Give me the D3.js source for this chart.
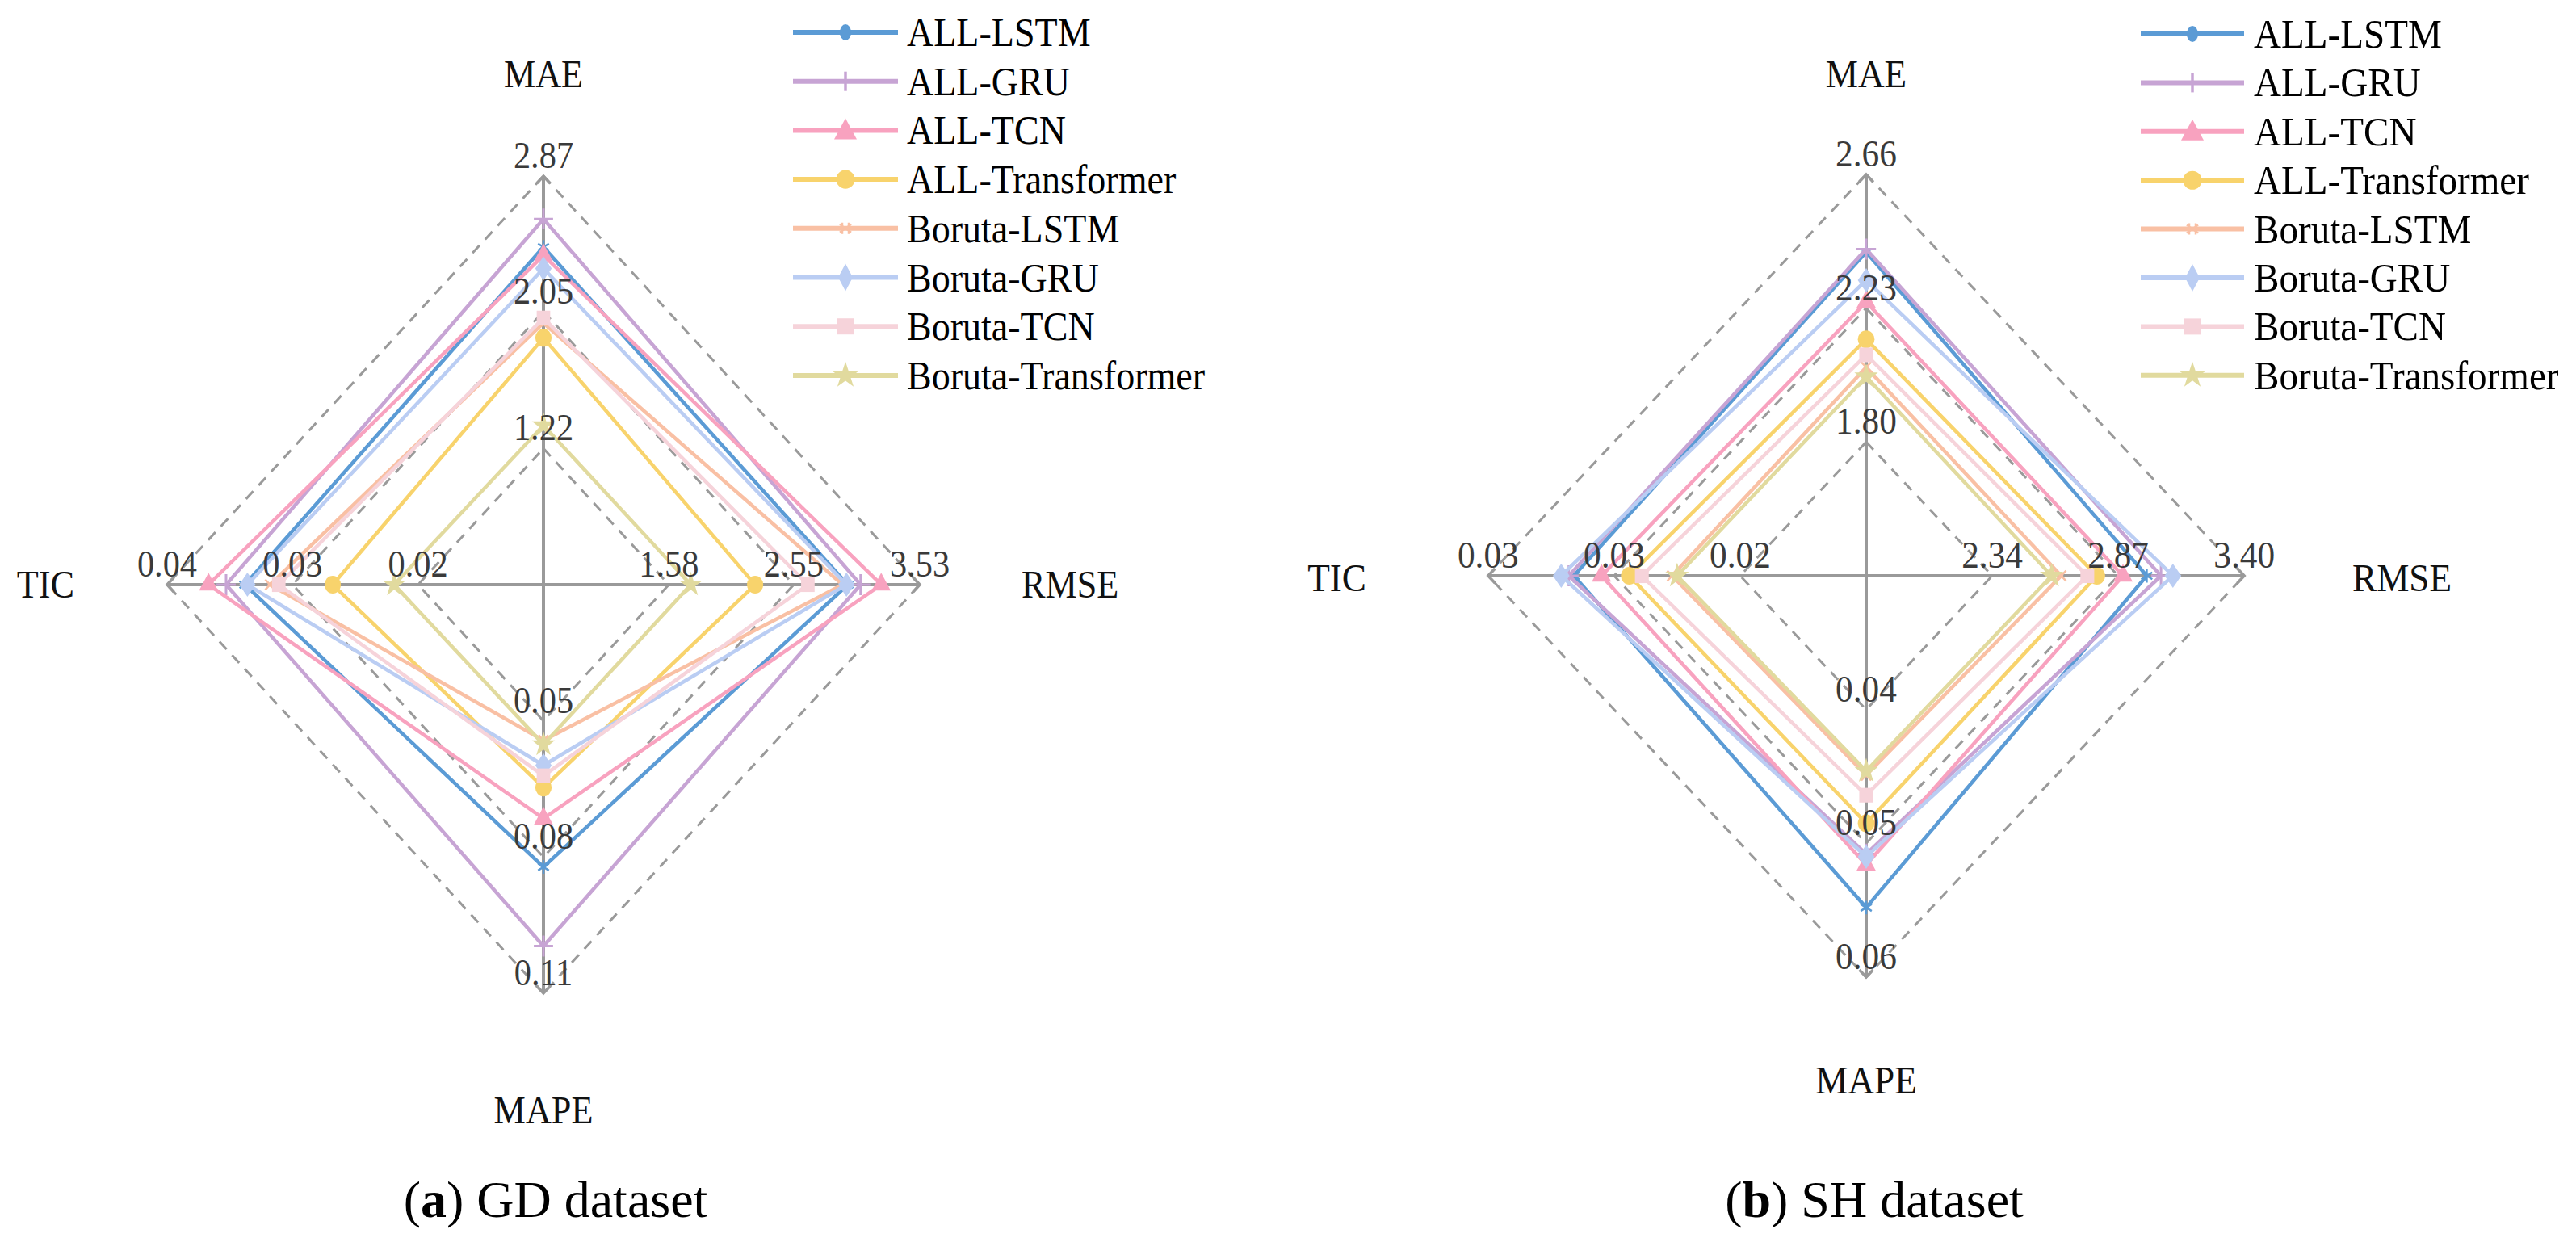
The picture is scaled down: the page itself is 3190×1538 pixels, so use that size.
<!DOCTYPE html>
<html><head><meta charset="utf-8">
<script src="https://cdn.jsdelivr.net/npm/d3@7"></script>
<style>html,body{margin:0;padding:0;background:#fff;} svg{display:block;}</style>
</head><body>
<svg id="chart" width="3190" height="1538"></svg>
<script>
// ---------- data ----------
const axisNames = ["MAE", "RMSE", "MAPE", "TIC"];
const seriesNames = ["ALL-LSTM", "ALL-GRU", "ALL-TCN", "ALL-Transformer",
                     "Boruta-LSTM", "Boruta-GRU", "Boruta-TCN", "Boruta-Transformer"];
const seriesColors = ["#5b9bd5", "#c7a4d4", "#f8a2bf", "#f8d36c",
                      "#f9c0a4", "#bacdf3", "#f6d3da", "#e1da9e"];
const seriesMarkers = ["asterisk", "plus", "triangle", "circle", "times", "diamond", "square", "star"];

// GD dataset: axis centre values, ring tick values and labels (MAE, RMSE, MAPE, TIC)
const gdAxisMin = [0.395, 0.605, 0.02, 0.01];
const gdTicks = [[1.22, 2.05, 2.87], [1.58, 2.55, 3.53], [0.05, 0.08, 0.11], [0.02, 0.03, 0.04]];
const gdTickLabels = [["1.22", "2.05", "2.87"], ["1.58", "2.55", "3.53"], ["0.05", "0.08", "0.11"], ["0.02", "0.03", "0.04"]];
const gdMAE  = [2.44, 2.61, 2.39, 1.89, 1.98, 2.31, 2.01, 1.36];
const gdRMSE = [2.97, 3.07, 3.23, 2.25, 2.93, 2.96, 2.66, 1.75];
const gdMAPE = [0.0822, 0.0996, 0.0715, 0.0647, 0.0543, 0.0598, 0.0621, 0.0552];
const gdTIC  = [0.0338, 0.0353, 0.0367, 0.0268, 0.0318, 0.0336, 0.0311, 0.0219];

// SH dataset
const shAxisMin = [1.37, 1.81, 0.03, 0.017];
const shTicks = [[1.80, 2.23, 2.66], [2.34, 2.87, 3.40], [0.04, 0.05, 0.06], [0.022, 0.027, 0.032]];
const shTickLabels = [["1.80", "2.23", "2.66"], ["2.34", "2.87", "3.40"], ["0.04", "0.05", "0.06"], ["0.02", "0.03", "0.03"]];
const shMAE  = [2.41, 2.42, 2.25, 2.13, 2.04, 2.32, 2.08, 2.01];
const shRMSE = [2.99, 3.05, 2.89, 2.78, 2.63, 3.10, 2.74, 2.59];
const shMAPE = [0.0548, 0.0508, 0.0516, 0.0485, 0.0449, 0.0510, 0.0464, 0.0446];
const shTIC  = [0.0286, 0.0288, 0.0275, 0.0264, 0.0247, 0.0291, 0.0259, 0.0245];

const captions = [["a", " GD dataset"], ["b", " SH dataset"]];

// ---------- drawing ----------
const FONT = "'Liberation Serif', 'Times New Roman', serif";
const svg = d3.select("#chart");
const dirs = [[0, -1], [1, 0], [0, 1], [-1, 0]];
const AXIS_COLOR = "#9a9a9a";

function chartMarker(type) {
  switch (type) {
    case "asterisk": return {d: d3.symbol(d3.symbolAsterisk, 200)(), stroke: true, w: 2.5};
    case "plus": return {d: d3.symbol(d3.symbolPlus, 220)(), stroke: true, w: 3};
    case "triangle": return {d: d3.symbol(d3.symbolTriangle, 280)(), stroke: false};
    case "circle": return {d: d3.symbol(d3.symbolCircle, 380)(), stroke: false};
    case "times": return {d: d3.symbol(d3.symbolTimes, 110)(), stroke: true, w: 2.5};
    case "diamond": return {d: "M0,-15L11,0L0,15L-11,0Z", stroke: false};
    case "square": return {d: d3.symbol(d3.symbolSquare, 330)(), stroke: false};
    case "star": return {d: d3.symbol(d3.symbolStar, 300)(), stroke: false};
  }
}
function legendMarker(type) {
  switch (type) {
    case "asterisk": return {d: "M0,-10A7,10 0 1,1 0,10A7,10 0 1,1 0,-10Z", stroke: false};
    case "plus": return {d: "M0,-12L0,12", stroke: true, w: 3.5};
    case "triangle": return {d: "M0,-15L14,11L-14,11Z", stroke: false};
    case "circle": return {d: d3.symbol(d3.symbolCircle, 420)(), stroke: false};
    case "times": return {d: "M-4,-7L-4,7M4,-7L4,7M-7,-5L7,5M-7,5L7,-5", stroke: true, w: 2.5};
    case "diamond": return {d: "M0,-17L9,0L0,17L-9,0Z", stroke: false};
    case "square": return {d: "M-10,-10H10V10H-10Z", stroke: false};
    case "star": return {d: d3.symbol(d3.symbolStar, 330)(), stroke: false};
  }
}
function drawShape(sel, m, color, x, y) {
  const p = sel.append("path").attr("d", m.d).attr("transform", `translate(${x},${y})`);
  if (m.stroke) p.attr("fill", "none").attr("stroke", color).attr("stroke-width", m.w).attr("vector-effect", "non-scaling-stroke");
  else p.attr("fill", color);
}

function drawRadar(cfg) {
  const g = svg.append("g").attr("transform", `translate(${cfg.cx},${cfg.cy}) scale(${cfg.sx},1)`);
  const scales = axisNames.map((n, i) =>
    d3.scaleLinear().domain([cfg.mins[i], cfg.ticks[i][2]]).range([0, cfg.R]));
  const closed = d3.line().curve(d3.curveLinearClosed);

  // dashed rings
  [0, 1, 2].forEach(k => {
    const pts = dirs.map((d, i) => {
      const r = scales[i](cfg.ticks[i][k]);
      return [d[0] * r, d[1] * r];
    });
    g.append("path").attr("d", closed(pts)).attr("fill", "none")
      .attr("stroke", AXIS_COLOR).attr("stroke-width", 3)
      .attr("stroke-dasharray", "13,10").attr("vector-effect", "non-scaling-stroke");
  });

  // axes with arrow heads
  dirs.forEach((d, i) => {
    const R = scales[i].range()[1];
    g.append("line").attr("x1", 0).attr("y1", 0).attr("x2", d[0] * R).attr("y2", d[1] * R)
      .attr("stroke", AXIS_COLOR).attr("stroke-width", 4).attr("vector-effect", "non-scaling-stroke");
    const tx = d[0] * R, ty = d[1] * R, px = -d[1], py = d[0], b = 9, s = 9;
    g.append("path")
      .attr("d", `M${tx - d[0] * b + px * s},${ty - d[1] * b + py * s}L${tx},${ty}L${tx - d[0] * b - px * s},${ty - d[1] * b - py * s}`)
      .attr("fill", "none").attr("stroke", AXIS_COLOR).attr("stroke-width", 3.5)
      .attr("vector-effect", "non-scaling-stroke");
  });

  // series polygons and markers
  seriesNames.forEach((name, j) => {
    const pts = dirs.map((d, i) => {
      const r = scales[i](cfg.values[i][j]);
      return [d[0] * r, d[1] * r];
    });
    g.append("path").attr("d", closed(pts)).attr("fill", "none")
      .attr("stroke", seriesColors[j]).attr("stroke-width", 4.5)
      .attr("stroke-linejoin", "miter").attr("vector-effect", "non-scaling-stroke");
    const m = chartMarker(seriesMarkers[j]);
    pts.forEach(p => drawShape(g, m, seriesColors[j], p[0], p[1]));
  });

  // ring tick labels
  dirs.forEach((d, i) => {
    cfg.ticks[i].forEach((t, k) => {
      const r = scales[i](t);
      g.append("text").attr("x", d[0] * r).attr("y", d[1] * r - 10)
        .attr("text-anchor", "middle").attr("font-family", FONT).attr("font-size", 46)
        .attr("fill", "#3a3a3a").text(cfg.labels[i][k]);
    });
  });

  // axis names (positions in screen px relative to centre)
  cfg.names.forEach((n, i) => {
    g.append("text").attr("x", n[0] / cfg.sx).attr("y", n[1]).attr("text-anchor", n[2])
      .attr("font-family", FONT).attr("font-size", 48).attr("fill", "#111").text(axisNames[i]);
  });
}

function drawLegend(x0, x1, mx, tx, y0, dy, sx) {
  seriesNames.forEach((name, j) => {
    const y = y0 + j * dy;
    svg.append("line").attr("x1", x0).attr("x2", x1).attr("y1", y).attr("y2", y)
      .attr("stroke", seriesColors[j]).attr("stroke-width", 6);
    drawShape(svg, legendMarker(seriesMarkers[j]), seriesColors[j], mx, y);
    svg.append("text").attr("transform", `translate(${tx},${y + 17}) scale(${sx},1)`)
      .attr("font-family", FONT).attr("font-size", 50).attr("fill", "#000").text(name);
  });
}

drawRadar({
  cx: 673, cy: 724, R: 506, sx: 0.921,
  mins: gdAxisMin, ticks: gdTicks, labels: gdTickLabels,
  values: [gdMAE, gdRMSE, gdMAPE, gdTIC],
  names: [[0, -616, "middle"], [592, 16, "start"], [0, 667, "middle"], [-581, 16, "end"]]
});
drawRadar({
  cx: 2311, cy: 713, R: 497, sx: 0.942,
  mins: shAxisMin, ticks: shTicks, labels: shTickLabels,
  values: [shMAE, shRMSE, shMAPE, shTIC],
  names: [[0, -605, "middle"], [602, 19, "start"], [0, 641, "middle"], [-619, 19, "end"]]
});

drawLegend(982, 1112, 1047, 1123, 40, 60.7, 0.921);
drawLegend(2651, 2779, 2715, 2791, 42, 60.4, 0.942);

[[688, captions[0]], [2321, captions[1]]].forEach(([x, c]) => {
  const t = svg.append("text").attr("x", x).attr("y", 1507).attr("text-anchor", "middle")
    .attr("font-family", FONT).attr("font-size", 64).attr("fill", "#000");
  t.append("tspan").text("(");
  t.append("tspan").attr("font-weight", "bold").text(c[0]);
  t.append("tspan").text(")" + c[1]);
});
</script>
</body></html>
